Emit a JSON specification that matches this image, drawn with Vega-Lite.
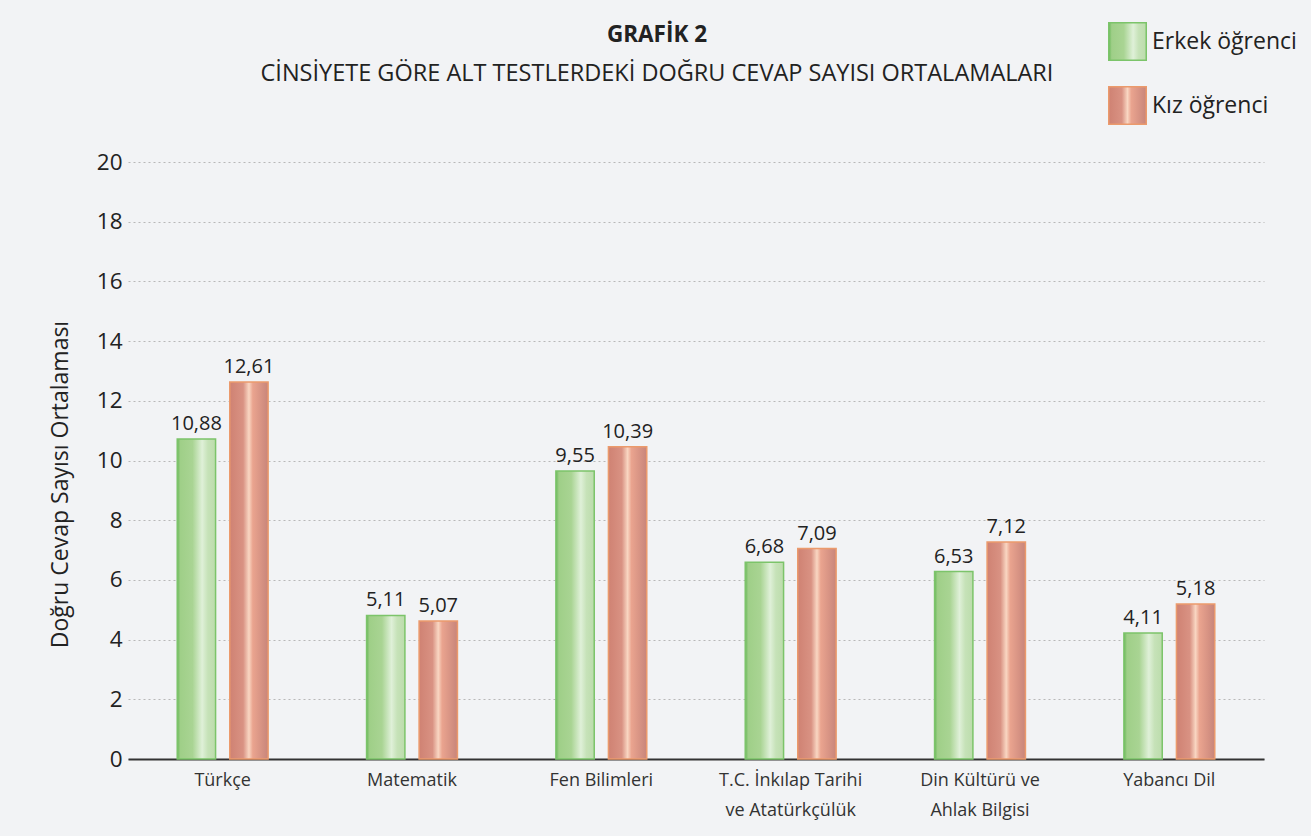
{
  "$schema": "https://vega.github.io/schema/vega-lite/v6.json",
  "width": 1136,
  "height": 597,
  "autosize": "none",
  "padding": {"left": 128, "top": 162, "right": 47, "bottom": 77},
  "background": "#f2f3f5",
  "config": {
    "font": "Open Sans",
    "view": {"stroke": null},
    "legend": {
      "title": null,
      "orient": "none",
      "symbolType": "square",
      "symbolSize": 1406,
      "symbolStrokeWidth": 1.5,
      "labelFontSize": 23,
      "labelColor": "#222222",
      "labelOffset": 5,
      "labelLimit": 300
    }
  },
  "title": {
    "text": "GRAFİK 2",
    "subtitle": "CİNSİYETE GÖRE ALT TESTLERDEKİ DOĞRU CEVAP SAYISI ORTALAMALARI",
    "anchor": "middle",
    "dx": -39,
    "offset": -63,
    "fontSize": 22.5,
    "fontWeight": "bold",
    "color": "#222222",
    "subtitleFontSize": 23.5,
    "subtitleColor": "#222222",
    "subtitlePadding": 15
  },
  "data": {
    "values": [
      {"ders": "Türkçe", "cinsiyet": "Erkek öğrenci", "deger": 10.72, "etiket": "10,88"},
      {"ders": "Türkçe", "cinsiyet": "Kız öğrenci", "deger": 12.63, "etiket": "12,61"},
      {"ders": "Matematik", "cinsiyet": "Erkek öğrenci", "deger": 4.81, "etiket": "5,11"},
      {"ders": "Matematik", "cinsiyet": "Kız öğrenci", "deger": 4.62, "etiket": "5,07"},
      {"ders": "Fen Bilimleri", "cinsiyet": "Erkek öğrenci", "deger": 9.65, "etiket": "9,55"},
      {"ders": "Fen Bilimleri", "cinsiyet": "Kız öğrenci", "deger": 10.46, "etiket": "10,39"},
      {"ders": "T.C. İnkılap Tarihi|ve Atatürkçülük", "cinsiyet": "Erkek öğrenci", "deger": 6.59, "etiket": "6,68"},
      {"ders": "T.C. İnkılap Tarihi|ve Atatürkçülük", "cinsiyet": "Kız öğrenci", "deger": 7.05, "etiket": "7,09"},
      {"ders": "Din Kültürü ve|Ahlak Bilgisi", "cinsiyet": "Erkek öğrenci", "deger": 6.28, "etiket": "6,53"},
      {"ders": "Din Kültürü ve|Ahlak Bilgisi", "cinsiyet": "Kız öğrenci", "deger": 7.27, "etiket": "7,12"},
      {"ders": "Yabancı Dil", "cinsiyet": "Erkek öğrenci", "deger": 4.22, "etiket": "4,11"},
      {"ders": "Yabancı Dil", "cinsiyet": "Kız öğrenci", "deger": 5.19, "etiket": "5,18"}
    ]
  },
  "encoding": {
    "x": {
      "field": "ders",
      "type": "nominal",
      "sort": null,
      "scale": {"paddingInner": 0.52, "paddingOuter": 0.26},
      "axis": {
        "title": null,
        "labelAngle": 0,
        "labelExpr": "split(datum.label, '|')",
        "labelFontSize": 18,
        "labelColor": "#333333",
        "labelPadding": 12,
        "labelLineHeight": 30,
        "labelBaseline": "top",
        "ticks": false,
        "domain": true,
        "domainColor": "#333333",
        "domainWidth": 2,
        "grid": false
      }
    },
    "xOffset": {
      "field": "cinsiyet",
      "type": "nominal",
      "scale": {"domain": ["Erkek öğrenci", "Kız öğrenci"], "paddingInner": 0.27, "paddingOuter": 0}
    },
    "y": {
      "field": "deger",
      "type": "quantitative",
      "scale": {"domain": [0, 20], "nice": false},
      "axis": {
        "title": "Doğru Cevap Sayısı Ortalaması",
        "titleFontSize": 23,
        "titleFontWeight": "normal",
        "titleColor": "#222222",
        "titlePadding": 24,
        "titleY": 322,
        "values": [0, 2, 4, 6, 8, 10, 12, 14, 16, 18, 20],
        "labelFontSize": 22.5,
        "labelColor": "#222222",
        "labelPadding": 6,
        "ticks": false,
        "domain": false,
        "grid": true,
        "gridColor": "#b8b8b8",
        "gridDash": [2, 3],
        "gridWidth": 1.2
      }
    }
  },
  "layer": [
    {
      "transform": [{"filter": "datum.cinsiyet === 'Erkek öğrenci'"}],
      "mark": {
        "type": "bar",
        "strokeWidth": 1.5,
        "fill": {"gradient": "linear", "x1": 0, "x2": 1, "y1": 0, "y2": 0, "stops": [{"offset": 0, "color": "#6ab85a"}, {"offset": 0.08, "color": "#9fcf88"}, {"offset": 0.4, "color": "#a9d493"}, {"offset": 0.65, "color": "#dff0d8"}, {"offset": 0.8, "color": "#c6e2b8"}, {"offset": 1, "color": "#bcdcac"}]}
      },
      "encoding": {
        "stroke": {
          "field": "cinsiyet",
          "type": "nominal",
          "scale": {"domain": ["Erkek öğrenci"], "range": ["#7cc46a"]},
          "legend": {"legendX": 980, "legendY": -140}
        }
      }
    },
    {
      "transform": [{"filter": "datum.cinsiyet === 'Kız öğrenci'"}],
      "mark": {
        "type": "bar",
        "strokeWidth": 1.5,
        "fill": {"gradient": "linear", "x1": 0, "x2": 1, "y1": 0, "y2": 0, "stops": [{"offset": 0, "color": "#cf8273"}, {"offset": 0.35, "color": "#d99283"}, {"offset": 0.5, "color": "#f9d6c2"}, {"offset": 0.6, "color": "#eaa48f"}, {"offset": 1, "color": "#c8857a"}]}
      },
      "encoding": {
        "stroke": {
          "field": "cinsiyet",
          "type": "nominal",
          "scale": {"domain": ["Kız öğrenci"], "range": ["#eb9a6c"]},
          "legend": {"legendX": 980, "legendY": -76}
        }
      }
    },
    {
      "mark": {"type": "text", "baseline": "bottom", "dy": -5, "fontSize": 20, "color": "#222222"},
      "encoding": {
        "text": {"field": "etiket", "type": "nominal"}
      }
    }
  ],
  "resolve": {"scale": {"stroke": "independent"}, "legend": {"stroke": "independent"}}
}
